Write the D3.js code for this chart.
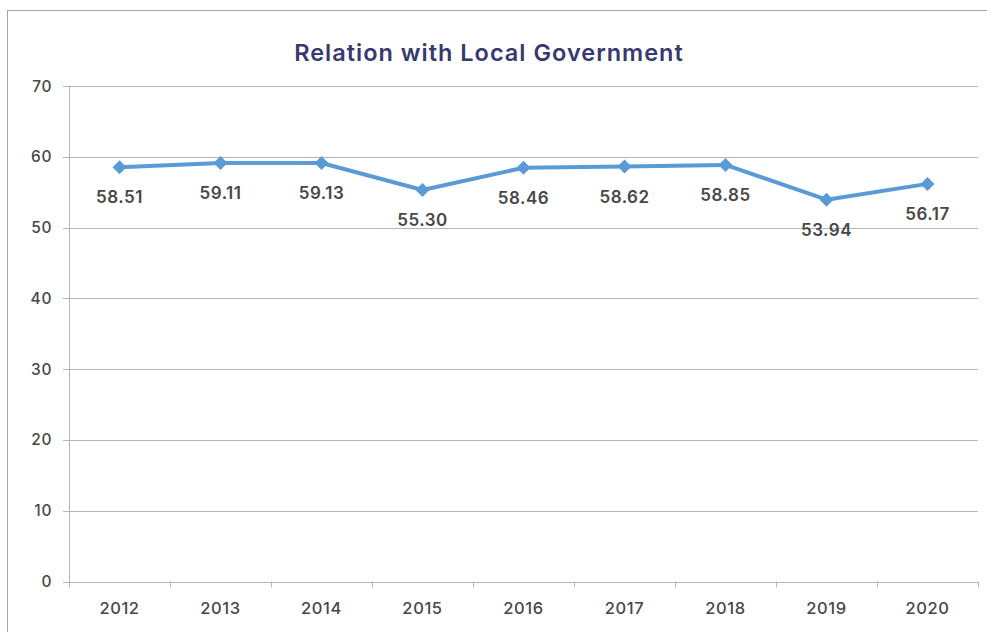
<!DOCTYPE html>
<html><head><meta charset="utf-8">
<script src="https://cdn.jsdelivr.net/npm/d3@7"></script>
<style>body{margin:0;background:#fff;} svg{display:block;}</style>
</head><body>
<svg id="c" width="987" height="632"></svg>
<script>
const title = "Relation with Local Government";
const years = ["2012","2013","2014","2015","2016","2017","2018","2019","2020"];
const values = [58.51, 59.11, 59.13, 55.30, 58.46, 58.62, 58.85, 53.94, 56.17];
const yTicks = [0,10,20,30,40,50,60,70];

const svg = d3.select("#c");
const font = "'Inter', 'Open Sans', sans-serif";
const m = {left:69, right:978, top:86, bottom:581.5};

svg.append("rect").attr("x",7.5).attr("y",10.5).attr("width",990).attr("height",640)
  .attr("fill","#fff").attr("stroke","#a6a6a6").attr("stroke-width",1);

svg.append("text").attr("x",489).attr("y",60.5).attr("text-anchor","middle")
  .attr("font-family",font).attr("font-weight",600).attr("font-size",23.5)
  .attr("letter-spacing",1)
  .attr("fill","#363a6e").text(title);

const x = d3.scaleBand().domain(years).range([m.left, m.right]).paddingInner(0).paddingOuter(0);
const y = d3.scaleLinear().domain([0,70]).range([m.bottom, m.top]);

// gridlines
svg.append("g").selectAll("line").data(yTicks).join("line")
  .attr("x1",m.left-6).attr("x2",m.right)
  .attr("y1",d=>Math.round(y(d))+0.5).attr("y2",d=>Math.round(y(d))+0.5)
  .attr("stroke","#b5b5b5").attr("stroke-width",1);

// y axis line
svg.append("line").attr("x1",m.left+0.5).attr("x2",m.left+0.5)
  .attr("y1",m.top).attr("y2",m.bottom+6).attr("stroke","#b5b5b5");

// y labels
svg.append("g").selectAll("text").data(yTicks).join("text")
  .attr("x",52).attr("y",d=>y(d)+5.5).attr("text-anchor","end")
  .attr("font-family",font).attr("font-weight",500).attr("font-size",15.5).attr("letter-spacing",0.6)
  .attr("fill","#474747").text(d=>d);

// x category ticks
const bounds = years.map(d=>x(d)).concat([m.right]);
svg.append("g").selectAll("line").data(bounds).join("line")
  .attr("x1",d=>Math.round(d)+0.5).attr("x2",d=>Math.round(d)+0.5)
  .attr("y1",m.bottom).attr("y2",m.bottom+6).attr("stroke","#b5b5b5");

svg.append("g").selectAll("text").data(years).join("text")
  .attr("x",d=>x(d)+x.bandwidth()/2).attr("y",613.5).attr("text-anchor","middle")
  .attr("font-family",font).attr("font-weight",500).attr("font-size",16.5).attr("letter-spacing",0.6)
  .attr("fill","#474747").text(d=>d);

// line
const cx = d=>x(d)+x.bandwidth()/2;
const line = d3.line().x((d,i)=>cx(years[i])).y(d=>y(d));
svg.append("path").datum(values).attr("d",line).attr("fill","none")
  .attr("stroke","#5b9bd5").attr("stroke-width",4).attr("stroke-linejoin","round");

svg.append("g").selectAll("path").data(values).join("path")
  .attr("d",d3.symbol().type(d3.symbolDiamond2).size(125))
  .attr("transform",(d,i)=>`translate(${cx(years[i])},${y(d)})`)
  .attr("fill","#5b9bd5");

svg.append("g").selectAll("text").data(values).join("text")
  .attr("x",(d,i)=>cx(years[i])).attr("y",d=>y(d)+36).attr("text-anchor","middle")
  .attr("font-family",font).attr("font-weight",600).attr("font-size",17).attr("letter-spacing",0.5)
  .attr("fill","#474747")
  .text(d=>d.toFixed(2));
</script>
</body></html>
